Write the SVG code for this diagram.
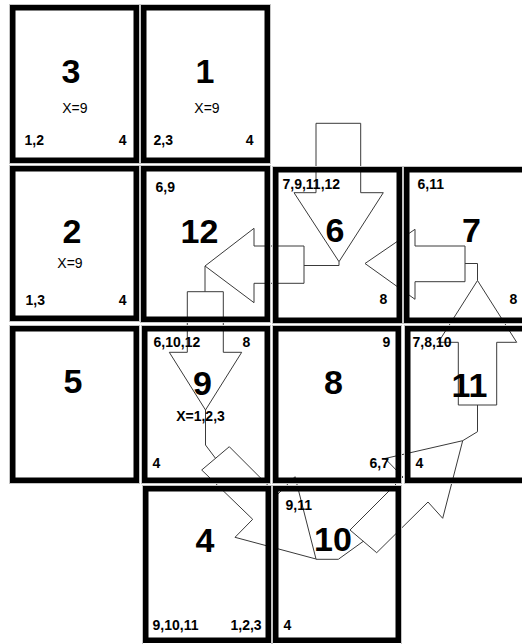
<svg xmlns="http://www.w3.org/2000/svg" width="522" height="644" viewBox="0 0 522 644">
<defs>
<style>
.grid{fill:none;stroke:#c4c4c4;stroke-width:1}
.box{fill:none;stroke:#000;stroke-width:5.5}
.arr{fill:none;stroke:#3a3a3a;stroke-width:1}
.big{font-family:"Liberation Sans",Arial,sans-serif;font-weight:bold;font-size:34px;fill:#000;text-anchor:middle}
.sm{font-family:"Liberation Sans",Arial,sans-serif;font-weight:bold;font-size:14px;fill:#000}
.x{font-family:"Liberation Sans",Arial,sans-serif;font-size:14px;fill:#000;text-anchor:middle}
.end{text-anchor:end}
</style>
</defs>
<rect width="522" height="644" fill="#fff"/>
<g id="connectors">
<polygon class="arr" points="316,123.3 360.7,123.3 360.7,192.7 383.3,192.7 339,261.7 294,192.7 316,192.7"/>
<polygon class="arr" points="304,246 304,283.3 254,283.3 254,302.7 205,266 254,228.3 254,246"/>
<polygon class="arr" points="187.3,291.7 223.3,291.7 223.3,352.3 241.7,352.3 205.5,410 169.3,352.3 187.3,352.3"/>
<polygon class="arr" points="465,246 465,281.7 415,281.7 415,299.3 365,263.5 415,229.3 415,246"/>
<polygon class="arr" points="458.3,405 496.7,405 496.7,342.3 516.7,342.3 477.5,280.5 438.3,342.3 458.3,342.3"/>
<polygon class="arr" points="201.7,470 229.3,446.7 277.3,494.7 295,476.7 316,559 235,537.3 252.7,519.3"/>
<polygon class="arr" points="350,530 376.7,552.7 428,502 442.7,518.3 462.7,440.7 385,458.5 403,477"/>
<polyline class="arr" points="339,261.7 339,265.5 304,265.5"/>
<polyline class="arr" points="205,266 205,291.7"/>
<polyline class="arr" points="205.5,410 205.5,445 215.5,458.3"/>
<polyline class="arr" points="316,559.3 338.3,559.3 363.3,541.3"/>
<polyline class="arr" points="462.7,440.7 477.5,431.7 477.5,405"/>
<polyline class="arr" points="477.5,280.5 477.5,263.5 465,263.5"/>
</g>
<g id="node-3">
<rect class="grid" x="9.5" y="4.5" width="130" height="159"/>
<rect class="box" x="12.75" y="7.75" width="123.5" height="152.5"/>
<text class="big" x="71" y="83">3</text>
<text class="x" x="74.8" y="112.7">X=9</text>
<text class="sm" x="24.5" y="145">1,2</text>
<text class="sm end" x="126.5" y="145">4</text>
</g>
<g id="node-1">
<rect class="grid" x="140.5" y="4.5" width="130" height="159"/>
<rect class="box" x="143.75" y="7.75" width="123.5" height="152.5"/>
<text class="big" x="205" y="83">1</text>
<text class="x" x="207" y="112.7">X=9</text>
<text class="sm" x="153.5" y="145">2,3</text>
<text class="sm end" x="253.5" y="145">4</text>
</g>
<g id="node-2">
<rect class="grid" x="9.5" y="165.5" width="130" height="156"/>
<rect class="box" x="12.75" y="168.75" width="123.5" height="149.5"/>
<text class="big" x="72" y="243">2</text>
<text class="x" x="70" y="268">X=9</text>
<text class="sm" x="25.5" y="305">1,3</text>
<text class="sm end" x="126.5" y="305">4</text>
</g>
<g id="node-12">
<rect class="grid" x="140.5" y="165.5" width="130" height="157"/>
<rect class="box" x="143.75" y="168.75" width="123.5" height="150.5"/>
<text class="big" x="199.5" y="243">12</text>
<text class="sm" x="155.5" y="192">6,9</text>
</g>
<g id="node-6">
<rect class="grid" x="272.5" y="166.5" width="130" height="157"/>
<rect class="box" x="275.75" y="169.75" width="123.5" height="150.5"/>
<text class="big" x="335" y="242">6</text>
<text class="sm" x="282.5" y="189">7,9,11,12</text>
<text class="sm" x="379.5" y="304">8</text>
</g>
<g id="node-7">
<rect class="grid" x="403.5" y="166.5" width="140" height="157"/>
<rect class="box" x="406.75" y="169.75" width="133.5" height="150.5"/>
<text class="big" x="471.5" y="242">7</text>
<text class="sm" x="417.5" y="189">6,11</text>
<text class="sm" x="509.5" y="304">8</text>
</g>
<g id="node-5">
<rect class="grid" x="9.5" y="325.5" width="130" height="158"/>
<rect class="box" x="12.75" y="328.75" width="123.5" height="151.5"/>
<text class="big" x="73" y="393">5</text>
</g>
<g id="node-9">
<rect class="grid" x="141.5" y="325.5" width="129" height="158"/>
<rect class="box" x="144.75" y="328.75" width="122.5" height="151.5"/>
<text class="big" x="202.5" y="395">9</text>
<text class="sm" x="153.5" y="347">6,10,12</text>
<text class="sm" x="242.5" y="347">8</text>
<text class="x" x="200.5" y="421" font-weight="bold">X=1,2,3</text>
<text class="sm" x="152.5" y="468">4</text>
</g>
<g id="node-8">
<rect class="grid" x="272.5" y="325.5" width="129" height="158"/>
<rect class="box" x="275.75" y="328.75" width="122.5" height="151.5"/>
<text class="big" x="333.5" y="394">8</text>
<text class="sm" x="382.5" y="347">9</text>
<text class="sm" x="369.5" y="468">6,7</text>
</g>
<g id="node-11">
<rect class="grid" x="404.5" y="325.5" width="140" height="158"/>
<rect class="box" x="407.75" y="328.75" width="133.5" height="151.5"/>
<text class="big" x="469.5" y="397">11</text>
<text class="sm" x="412.5" y="347">7,8,10</text>
<text class="sm" x="415.5" y="468">4</text>
</g>
<g id="node-4">
<rect class="grid" x="142.5" y="485.5" width="129" height="160"/>
<rect class="box" x="145.75" y="488.75" width="122.5" height="151.5"/>
<text class="big" x="205" y="552">4</text>
<text class="sm" x="152.5" y="630">9,10,11</text>
<text class="sm" x="230.5" y="630">1,2,3</text>
</g>
<g id="node-10">
<rect class="grid" x="272.5" y="485.5" width="129" height="160"/>
<rect class="box" x="275.75" y="488.75" width="122.5" height="151.5"/>
<text class="big" x="333" y="551">10</text>
<text class="sm" x="285.5" y="510">9,11</text>
<text class="sm" x="283.5" y="630">4</text>
</g>
</svg>
